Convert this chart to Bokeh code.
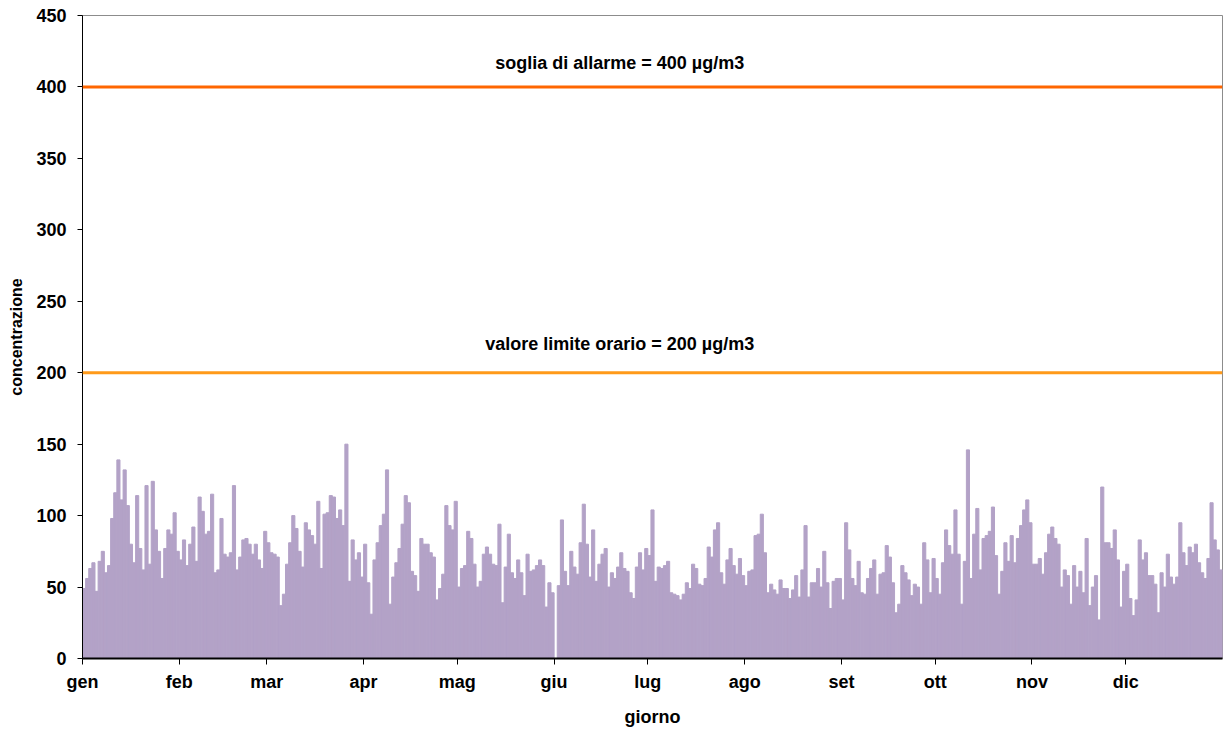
from bokeh.plotting import figure
from bokeh.models import Range1d, FixedTicker, Span, Label
from bokeh.embed import file_html
from bokeh.resources import INLINE

# Daily values (giorno 0..364)
jan_feb_a = [49, 56, 63, 67, 47, 68, 75, 60, 65, 98, 116, 139, 111, 132, 107, 80, 67, 114, 77, 62,
             121, 66, 124, 90, 75, 56, 77, 90, 87, 102, 75, 69, 83, 65, 80, 92, 68]
feb_mar = [113, 103, 87, 89, 115, 60, 62, 98, 73, 71, 74, 121, 62, 71, 83, 84, 80, 73, 80, 69,
           63, 89, 81, 74, 73, 71, 37, 45, 66, 81, 100, 91, 75, 64, 95, 90]
mar_apr = [86, 80, 110, 63, 101, 102, 114, 113, 98, 104, 93, 150, 54, 83, 69, 74, 57, 80, 53, 31,
           69, 81, 93, 101, 132, 38, 57, 67, 77, 94, 114, 109, 61, 58, 47, 84]
apr_mag = [80, 80, 74, 71, 41, 49, 59, 107, 93, 90, 110, 50, 63, 65, 89, 84, 66, 50, 54, 73,
           78, 73, 66, 65, 94, 39, 64, 87, 60, 56, 69, 60, 44, 73, 61, 62]
mag_lug = [65, 69, 65, 36, 53, 46, 0, 51, 97, 61, 51, 75, 64, 59, 81, 108, 80, 57, 90, 54,
           66, 73, 77, 50, 60, 56, 64, 74, 63, 61, 46, 42, 64, 74, 62, 77, 72, 104]
lug_ago = [54, 64, 63, 65, 68, 46, 45, 44, 41, 45, 53, 49, 66, 63, 52, 51, 56, 78, 71, 90,
           95, 60, 52, 69, 77, 65, 59, 70, 58, 51, 61, 62, 86, 87, 101, 74, 46]
ago_set = [52, 48, 45, 55, 49, 49, 42, 48, 58, 43, 62, 93, 43, 53, 53, 63, 50, 75, 53, 35,
           54, 56, 56, 41, 95, 76, 56, 51, 68, 46, 45, 56, 63, 69, 45, 59]
set_ott = [60, 79, 71, 53, 32, 38, 65, 60, 55, 44, 52, 50, 38, 81, 69, 46, 70, 56, 45, 67,
           90, 79, 73, 104, 73, 38, 68, 146, 56, 87, 105, 62, 84, 86, 89, 106]
ott_nov = [72, 45, 61, 81, 68, 86, 67, 84, 93, 104, 111, 95, 66, 66, 70, 59, 74, 87, 92, 84,
           80, 50, 62, 58, 38, 65, 50, 61, 46, 84, 37, 50, 58, 27, 120, 81]
nov_dic = [81, 77, 90, 69, 36, 61, 66, 42, 30, 41, 83, 69, 74, 58, 58, 52, 32, 60, 50, 73,
           57, 52, 57, 95, 74, 65, 78, 74, 80, 67, 60, 56, 70, 109, 83, 76, 62]

concentrazione = (jan_feb_a + feb_mar + mar_apr + apr_mag + mag_lug + lug_ago +
                  ago_set + set_ott + ott_nov + nov_dic)
giorno = [d + 0.5 for d in range(len(concentrazione))]

month_starts = [0, 31, 59, 90, 120, 151, 181, 212, 243, 273, 304, 334]
month_labels = ["gen", "feb", "mar", "apr", "mag", "giu", "lug", "ago", "set", "ott", "nov", "dic"]
y_ticks = [0, 50, 100, 150, 200, 250, 300, 350, 400, 450]

soglia_allarme = 400
valore_limite = 200
testo_allarme = "soglia di allarme = 400 µg/m3"
testo_limite = "valore limite orario = 200 µg/m3"

FONT = "Liberation Sans"
BAR = "#B3A2C7"

p = figure(width=1223, height=729, output_backend="svg", toolbar_location=None,
           x_range=Range1d(0, len(concentrazione)), y_range=Range1d(0, 450),
           min_border_left=82, min_border_right=1, min_border_top=15, min_border_bottom=71)
p.background_fill_color = "white"
p.border_fill_color = "white"
p.outline_line_color = "#8c8c8c"
p.outline_line_width = 1
p.xgrid.grid_line_color = None
p.ygrid.grid_line_color = None

p.vbar(x=giorno, top=concentrazione, width=1.0, bottom=0,
       fill_color=BAR, line_color=BAR, line_width=1)

p.add_layout(Span(location=soglia_allarme, dimension="width", line_color="#FF6600", line_width=3))
p.add_layout(Span(location=valore_limite, dimension="width", line_color="#FF9A1A", line_width=3))

p.add_layout(Label(x=172, y=soglia_allarme + 17, text=testo_allarme, text_align="center",
                   text_baseline="middle", text_font=FONT, text_font_style="bold",
                   text_font_size="18px", text_color="black"))
p.add_layout(Label(x=172, y=valore_limite + 20, text=testo_limite, text_align="center",
                   text_baseline="middle", text_font=FONT, text_font_style="bold",
                   text_font_size="18px", text_color="black"))

# x axis
xa = p.xaxis[0]
xa.ticker = FixedTicker(ticks=month_starts)
xa.major_label_overrides = {m: l for m, l in zip(month_starts, month_labels)}
xa.axis_line_color = "black"
xa.axis_line_width = 2
xa.major_tick_line_color = "black"
xa.major_tick_out = 6
xa.major_tick_in = 0
xa.minor_tick_line_color = None
xa.major_label_text_font = FONT
xa.major_label_text_font_style = "bold"
xa.major_label_text_font_size = "18px"
xa.major_label_text_color = "black"
xa.major_label_standoff = 7
xa.axis_label = "giorno"
xa.axis_label_text_font = FONT
xa.axis_label_text_font_style = "bold"
xa.axis_label_text_font_size = "18px"
xa.axis_label_text_color = "black"
xa.axis_label_standoff = 12

# y axis
ya = p.yaxis[0]
ya.ticker = FixedTicker(ticks=y_ticks)
ya.axis_line_color = "black"
ya.axis_line_width = 1
ya.major_tick_line_color = "black"
ya.major_tick_out = 5
ya.major_tick_in = 0
ya.minor_tick_line_color = None
ya.major_label_text_font = FONT
ya.major_label_text_font_style = "bold"
ya.major_label_text_font_size = "18px"
ya.major_label_text_color = "black"
ya.major_label_standoff = 11
ya.axis_label = "concentrazione"
ya.axis_label_text_font = FONT
ya.axis_label_text_font_style = "bold"
ya.axis_label_text_font_size = "16px"
ya.axis_label_text_color = "black"
ya.axis_label_standoff = 8

open("out.html", "w").write(file_html(p, INLINE))
